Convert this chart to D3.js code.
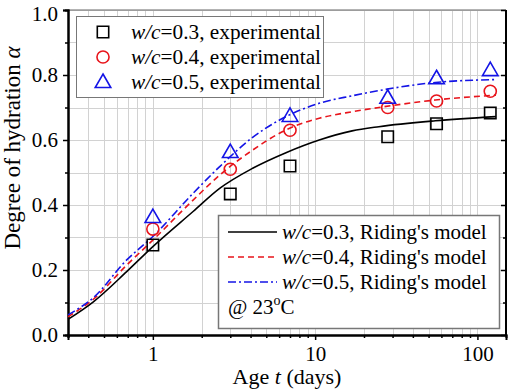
<!DOCTYPE html>
<html>
<head>
<meta charset="utf-8">
<script src="https://cdn.jsdelivr.net/npm/d3@7"></script>
<style>
  body { margin: 0; background: #fff; }
  text { font-family: "Liberation Serif", "Times New Roman", Times, "DejaVu Serif", serif; }
</style>
</head>
<body>
<div id="root"></div>
<script>
// experimental ages (days) and degree of hydration
const expAges = [1, 3, 7, 28, 56, 120];
const exp03 = [0.277, 0.434, 0.52, 0.61, 0.65, 0.683];
const exp04 = [0.326, 0.51, 0.63, 0.70, 0.72, 0.75];
const exp05 = [0.363, 0.563, 0.674, 0.73, 0.79, 0.815];

// Riding's model curves
const modelAges = [0.3, 0.43, 0.69, 1, 1.77, 2.58, 4.12, 6.61, 10.6, 16.9, 24.7, 55, 130];
const model03 = [0.048, 0.102, 0.195, 0.272, 0.38, 0.451, 0.513, 0.561, 0.60, 0.628, 0.641, 0.659, 0.672];
const model04 = [0.056, 0.11, 0.215, 0.292, 0.415, 0.492, 0.569, 0.631, 0.667, 0.687, 0.70, 0.723, 0.738];
const model05 = [0.062, 0.115, 0.231, 0.303, 0.436, 0.518, 0.608, 0.672, 0.713, 0.736, 0.752, 0.777, 0.786];

const yTicks = [0, 0.2, 0.4, 0.6, 0.8, 1.0];
const xTicks = [1, 10, 100];
const wcLabels = ['0.3', '0.4', '0.5'];

const width = 510, height = 392;
const margin = { left: 68, right: 4, top: 10, bottom: 57 };
const innerW = width - margin.left - margin.right;
const innerH = height - margin.top - margin.bottom;

const svg = d3.select('#root').append('svg')
  .attr('width', width)
  .attr('height', height)
  .attr('viewBox', [0, 0, width, height]);

const x = d3.scaleLog().domain([0.3, 150]).range([margin.left, margin.left + innerW]);
const y = d3.scaleLinear().domain([0, 1]).range([margin.top + innerH, margin.top]);

// minor tick values
const xMinor = [];
[0.1, 1, 10, 100].forEach((dec) => {
  for (let k = 1; k <= 9; k++) {
    const v = dec * k;
    if (v >= 0.3 && v <= 150) xMinor.push(v);
  }
});
const yMinor = d3.range(0, 1.01, 0.1).map((v) => +v.toFixed(1));
const yOdd = yMinor.filter((v) => Math.round(v * 10) % 2 === 1);

// grid
const grid = svg.append('g').attr('stroke', '#d2d2d2').attr('stroke-width', 1);
grid.selectAll('line.v')
  .data(xMinor)
  .join('line')
  .attr('class', 'v')
  .attr('x1', (d) => Math.round(x(d)) + 0.5)
  .attr('x2', (d) => Math.round(x(d)) + 0.5)
  .attr('y1', margin.top)
  .attr('y2', margin.top + innerH);
grid.selectAll('line.h')
  .data(yMinor)
  .join('line')
  .attr('class', 'h')
  .attr('x1', margin.left)
  .attr('x2', margin.left + innerW)
  .attr('y1', (d) => Math.round(y(d)) + 0.5)
  .attr('y2', (d) => Math.round(y(d)) + 0.5);

// frame
svg.append('line')
  .attr('x1', margin.left).attr('x2', margin.left + innerW)
  .attr('y1', margin.top).attr('y2', margin.top)
  .attr('stroke', '#666').attr('stroke-width', 1);
svg.append('line')
  .attr('x1', margin.left + innerW).attr('x2', margin.left + innerW)
  .attr('y1', margin.top).attr('y2', margin.top + innerH)
  .attr('stroke', '#000').attr('stroke-width', 2);

// left axis
svg.append('g')
  .attr('transform', `translate(${margin.left},0)`)
  .call(d3.axisLeft(y).tickValues(yTicks).tickFormat(d3.format('.1f')).tickSize(5).tickPadding(5))
  .call((g) => g.selectAll('.tick text').filter((d) => d === 1).attr('dy', '0.5em'));
svg.append('g')
  .attr('transform', `translate(${margin.left},0)`)
  .call(d3.axisLeft(y).tickValues(yOdd).tickFormat('').tickSize(3));

// right axis (ticks inward)
svg.append('g')
  .attr('transform', `translate(${margin.left + innerW},0)`)
  .call(d3.axisLeft(y).tickValues(yTicks).tickFormat('').tickSize(5))
  .call((g) => g.select('.domain').remove());
svg.append('g')
  .attr('transform', `translate(${margin.left + innerW},0)`)
  .call(d3.axisLeft(y).tickValues(yOdd).tickFormat('').tickSize(3))
  .call((g) => g.select('.domain').remove());

// bottom axis
svg.append('g')
  .attr('transform', `translate(0,${margin.top + innerH})`)
  .call(d3.axisBottom(x).tickValues(xTicks).tickFormat(d3.format('d')).tickSize(5).tickPadding(6));
svg.append('g')
  .attr('transform', `translate(0,${margin.top + innerH})`)
  .call(d3.axisBottom(x).tickValues(xMinor.filter((v) => !xTicks.includes(v))).tickFormat('').tickSize(3));

svg.selectAll('.domain').attr('stroke', '#000').attr('stroke-width', 2);
svg.selectAll('.tick line').attr('stroke', '#000').attr('stroke-width', 1.5);
svg.selectAll('.tick text').attr('font-size', 21).attr('fill', '#000');

// axis titles
svg.append('text')
  .attr('transform', 'translate(20,148) rotate(-90)')
  .attr('text-anchor', 'middle')
  .attr('font-size', 23)
  .call((t) => {
    t.append('tspan').text('Degree of hydration ');
    t.append('tspan').attr('font-style', 'italic').text('α');
  });
svg.append('text')
  .attr('x', margin.left + innerW / 2)
  .attr('y', 384)
  .attr('text-anchor', 'middle')
  .attr('font-size', 22)
  .call((t) => {
    t.append('tspan').text('Age ');
    t.append('tspan').attr('font-style', 'italic').text('t');
    t.append('tspan').text(' (days)');
  });

// model curves
const line = d3.line()
  .x((d) => x(d[0]))
  .y((d) => y(d[1]))
  .curve(d3.curveMonotoneX);

const models = [
  { values: model03, color: '#000', dash: null },
  { values: model04, color: '#e8141b', dash: '6,4' },
  { values: model05, color: '#1414e6', dash: '8,3,2,3' }
];
svg.append('g')
  .selectAll('path')
  .data(models)
  .join('path')
  .attr('fill', 'none')
  .attr('stroke', (d) => d.color)
  .attr('stroke-width', 1.6)
  .attr('stroke-dasharray', (d) => d.dash)
  .attr('d', (d) => line(modelAges.map((t, i) => [t, d.values[i]])));

// experimental markers
const sym = {
  square: d3.symbol().type(d3.symbolSquare).size(130),
  circle: d3.symbol().type(d3.symbolCircle).size(115),
  triangle: d3.symbol().type(d3.symbolTriangle).size(105)
};
const series = [
  { values: exp03, color: '#000', shape: 'square' },
  { values: exp04, color: '#e8141b', shape: 'circle' },
  { values: exp05, color: '#1414e6', shape: 'triangle' }
];
const mg = svg.append('g')
  .selectAll('g')
  .data(series)
  .join('g')
  .attr('stroke', (d) => d.color)
  .attr('fill', 'none')
  .attr('stroke-width', 1.6);
mg.selectAll('path')
  .data((d) => d.values.map((v, i) => ({ t: expAges[i], v, shape: d.shape })))
  .join('path')
  .attr('transform', (d) => `translate(${x(d.t)},${y(d.v) + (d.shape === 'triangle' ? 1 : 0)})`)
  .attr('d', (d) => sym[d.shape]());

// top legend
const legTop = svg.append('g');
legTop.append('rect')
  .attr('x', 76.5).attr('y', 16.5).attr('width', 247).attr('height', 81)
  .attr('fill', '#fff').attr('stroke', '#777').attr('stroke-width', 1);
const legRows = legTop.selectAll('g')
  .data(series)
  .join('g')
  .attr('transform', (d, i) => `translate(0,${32 + i * 25})`);
legRows.append('path')
  .attr('transform', (d) => `translate(103,${d.shape === 'triangle' ? 1 : 0})`)
  .attr('d', (d) => sym[d.shape]())
  .attr('fill', 'none')
  .attr('stroke', (d) => d.color)
  .attr('stroke-width', 1.6);
legRows.append('text')
  .attr('x', 131)
  .attr('y', 7)
  .attr('font-size', 21.3)
  .call((t) => {
    t.append('tspan').attr('font-style', 'italic').text('w/c');
    t.append('tspan').text((d, i) => `=${wcLabels[i]}, experimental`);
  });

// bottom legend
const legBot = svg.append('g');
legBot.append('rect')
  .attr('x', 218.5).attr('y', 215.5).attr('width', 281).attr('height', 113)
  .attr('fill', '#fff').attr('stroke', '#777').attr('stroke-width', 1.5);
const modRows = legBot.selectAll('g')
  .data(models)
  .join('g')
  .attr('transform', (d, i) => `translate(0,${232 + i * 25})`);
modRows.append('line')
  .attr('x1', 228).attr('x2', 277)
  .attr('stroke', (d) => d.color)
  .attr('stroke-width', 1.6)
  .attr('stroke-dasharray', (d) => d.dash);
modRows.append('text')
  .attr('x', 282)
  .attr('y', 7)
  .attr('font-size', 21)
  .call((t) => {
    t.append('tspan').attr('font-style', 'italic').text('w/c');
    t.append('tspan').text((d, i) => `=${wcLabels[i]}, Riding's model`);
  });
legBot.append('text')
  .attr('x', 228)
  .attr('y', 314)
  .attr('font-size', 21)
  .call((t) => {
    t.append('tspan').text('@ 23');
    t.append('tspan').attr('font-size', 14).attr('dy', -9).text('o');
    t.append('tspan').attr('dy', 9).text('C');
  });
</script>
</body>
</html>
